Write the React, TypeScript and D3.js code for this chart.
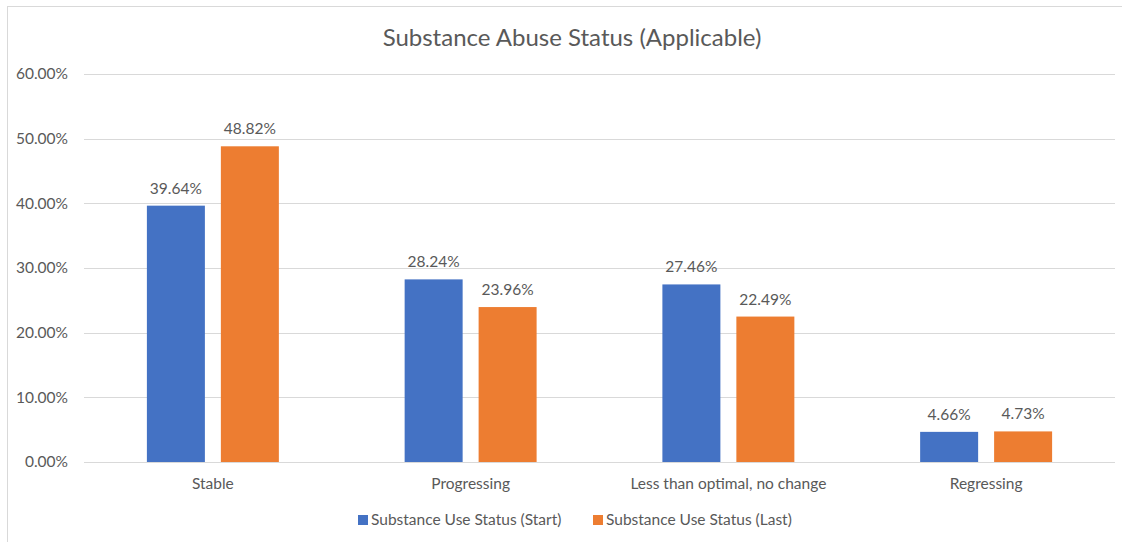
import React from "react";
import * as d3 from "d3";

const categories = ["Stable", "Progressing", "Less than optimal, no change", "Regressing"];
const seriesNames = ["Substance Use Status (Start)", "Substance Use Status (Last)"];
const startValues = [39.64, 28.24, 27.46, 4.66];
const lastValues = [48.82, 23.96, 22.49, 4.73];
const yTicks = [0, 10, 20, 30, 40, 50, 60];
const seriesColors = ["#4472C4", "#ED7D31"];

const WIDTH = 1122;
const HEIGHT = 542;
const FONT = "Lato, 'Open Sans', sans-serif";
const TEXT = "#595959";

// plot area
const plot = { left: 84, right: 1115, top: 74, bottom: 462 };

export default function App(): React.ReactElement {
    const x = d3.scaleBand<string>()
        .domain(categories)
        .range([plot.left, plot.right])
        .padding(0);

    const bw = x.bandwidth();
    const groupWidth = bw * 0.512;
    const x1 = d3.scaleBand<string>()
        .domain(seriesNames)
        .range([(bw - groupWidth) / 2, (bw + groupWidth) / 2])
        .paddingInner(0.216)
        .paddingOuter(0);

    const y = d3.scaleLinear().domain([0, 60]).range([plot.bottom, plot.top]);
    const fmt = (v: number): string => `${v.toFixed(2)}%`;

    const series = [startValues, lastValues];

    return (
        <svg
            width={WIDTH}
            height={HEIGHT}
            style={{ position: "absolute", left: 0, top: 0, background: "#fff" }}
            fontFamily={FONT}
        >
            <rect x={7.5} y={6.5} width={WIDTH + 10} height={HEIGHT + 10} fill="#fff" stroke="#D9D9D9" />

            <text x={572} y={46} textAnchor="middle" fontSize={24} fill={TEXT}>
                Substance Abuse Status (Applicable)
            </text>

            {/* gridlines + y tick labels */}
            {yTicks.map((t) => (
                <g key={t}>
                    <line
                        x1={plot.left}
                        x2={plot.right}
                        y1={Math.round(y(t)) + 0.5}
                        y2={Math.round(y(t)) + 0.5}
                        stroke="#D9D9D9"
                        strokeWidth={1}
                    />
                    <text x={68} y={y(t)} dy="0.35em" textAnchor="end" fontSize={15.5} fill={TEXT}>
                        {fmt(t)}
                    </text>
                </g>
            ))}

            {/* bars and data labels */}
            {categories.map((c, ci) => (
                <g key={c} transform={`translate(${x(c)},0)`}>
                    {seriesNames.map((s, si) => {
                        const v = series[si][ci];
                        const bx = x1(s) as number;
                        return (
                            <g key={s}>
                                <rect
                                    x={bx}
                                    y={y(v)}
                                    width={x1.bandwidth()}
                                    height={y(0) - y(v)}
                                    fill={seriesColors[si]}
                                />
                                <text
                                    x={bx + x1.bandwidth() / 2}
                                    y={y(v) - 12}
                                    textAnchor="middle"
                                    fontSize={15.5}
                                    fill={TEXT}
                                >
                                    {fmt(v)}
                                </text>
                            </g>
                        );
                    })}
                    <text x={bw / 2} y={489} textAnchor="middle" fontSize={15.5} fill={TEXT}>
                        {c}
                    </text>
                </g>
            ))}

            {/* legend */}
            {seriesNames.map((s, i) => {
                const lx = i === 0 ? 358 : 593;
                return (
                    <g key={s} transform={`translate(${lx},520)`}>
                        <rect x={0} y={-5} width={10} height={10} fill={seriesColors[i]} />
                        <text x={13} y={0} dy="0.35em" fontSize={15.5} fill={TEXT}>
                            {s}
                        </text>
                    </g>
                );
            })}
        </svg>
    );
}
